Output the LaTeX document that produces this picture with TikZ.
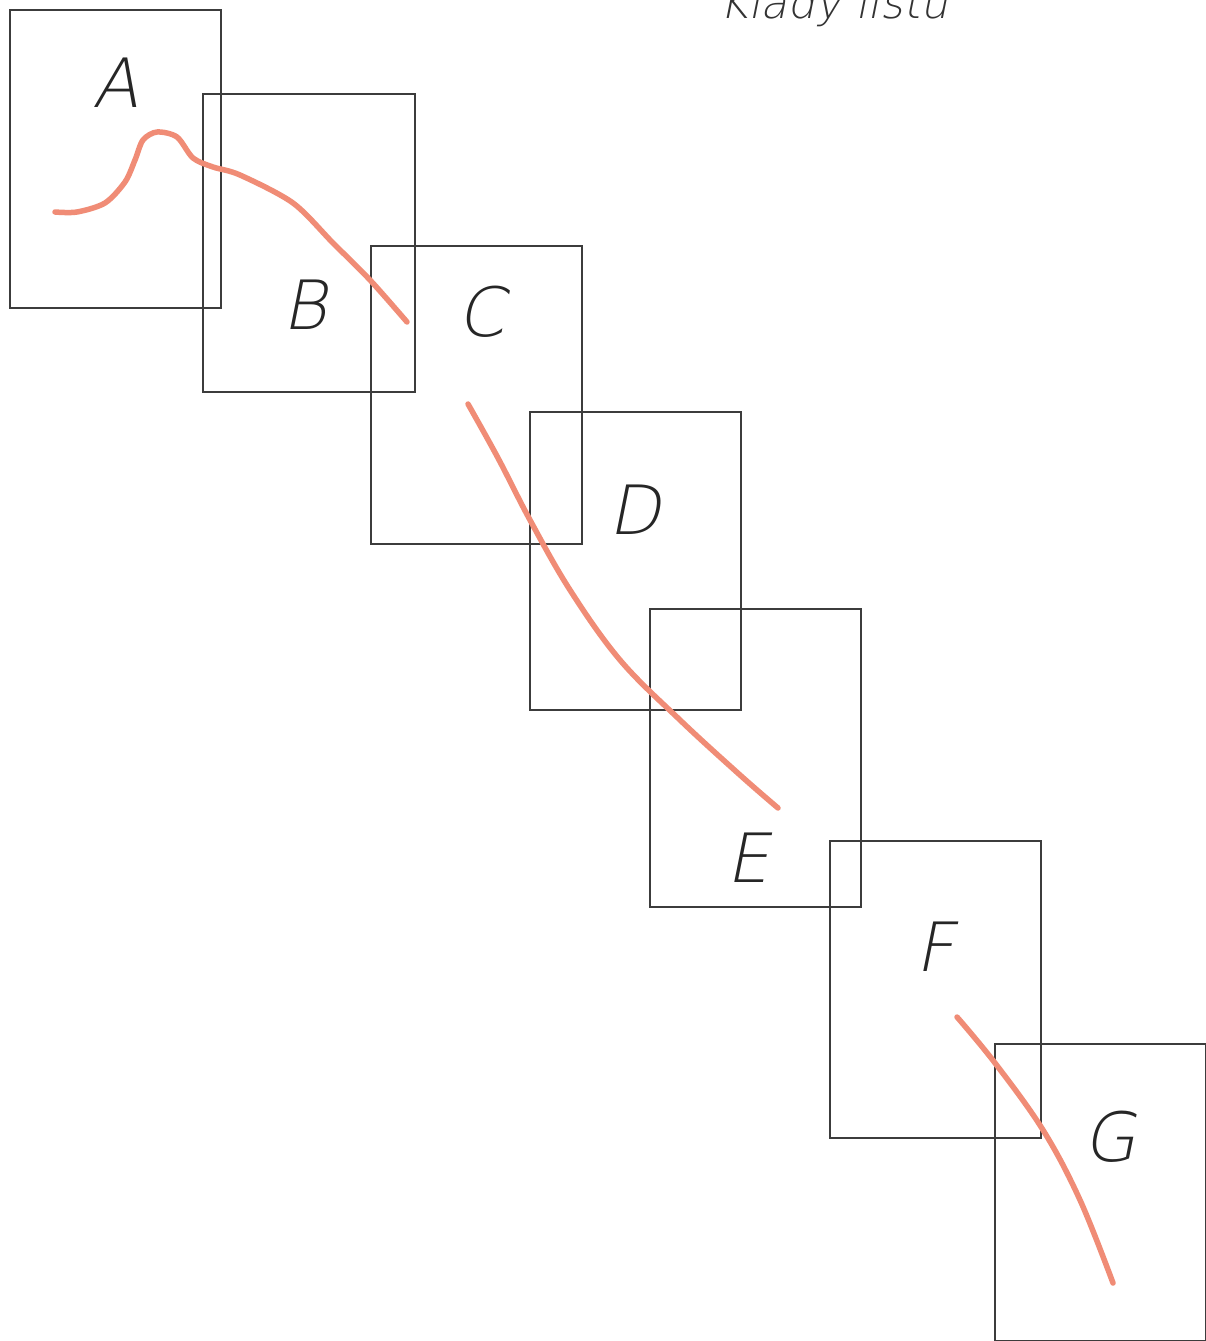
\documentclass[tikz,border=0pt]{standalone}
\usepackage{fontspec}
\newfontfamily\lblfont[FakeSlant=0.2]{DejaVu Sans ExtraLight}
\definecolor{boxc}{RGB}{60,60,60}
\definecolor{curvec}{RGB}{240,140,118}
\begin{document}
\begin{tikzpicture}[x=1pt,y=-1pt,
  sheet/.style={draw=boxc,line width=1.1pt},
  letter/.style={font=\lblfont\fontsize{68}{72}\selectfont,text=black!85,inner sep=0pt},
  edgecurve/.style={draw=curvec,line width=5.5pt,line cap=round,line join=round}]
\useasboundingbox (0,0) rectangle (1206,1341);
\fill[white] (0,0) rectangle (1206,1341);
% sheets
\draw[sheet] (10,10) rectangle (221,308);
\draw[sheet] (203,94) rectangle (415,392);
\draw[sheet] (371,246) rectangle (582,544);
\draw[sheet] (530,412) rectangle (741,710);
\draw[sheet] (650,609) rectangle (861,907);
\draw[sheet] (830,841) rectangle (1041,1138);
\draw[sheet] (995,1044) rectangle (1206,1341);
% labels
\node[letter] (la) at (116,83) {A};
\node[letter] (lb) at (305,305) {B};
\node[letter] (lc) at (481,312) {C};
\node[letter] (ld) at (635,510) {D};
\node[letter] (le) at (748,858) {E};
\node[letter] (lf) at (935,947) {F};
\node[letter] (lg) at (1110,1137) {G};
\node[font=\lblfont\fontsize{44}{48}\selectfont,text=black!80,anchor=base,inner sep=0pt] (title) at (834,18) {Klady listů};
% curves
\draw[edgecurve] plot[smooth,tension=0.5] coordinates {(55,212) (77,212) (105,203) (125,182) (135,160) (143,140) (157,132) (177,137) (193,158) (213,167) (240,175) (293,203) (333,243) (370,280) (407,322)};
\draw[edgecurve] plot[smooth,tension=0.6] coordinates {(468,404) (498,458) (530,520) (570,590) (620,660) (680,720) (740,775) (778,808)};
\draw[edgecurve] plot[smooth,tension=0.6] coordinates {(957,1017) (995,1063) (1043,1130) (1080,1200) (1113,1283)};
\end{tikzpicture}
\end{document}
